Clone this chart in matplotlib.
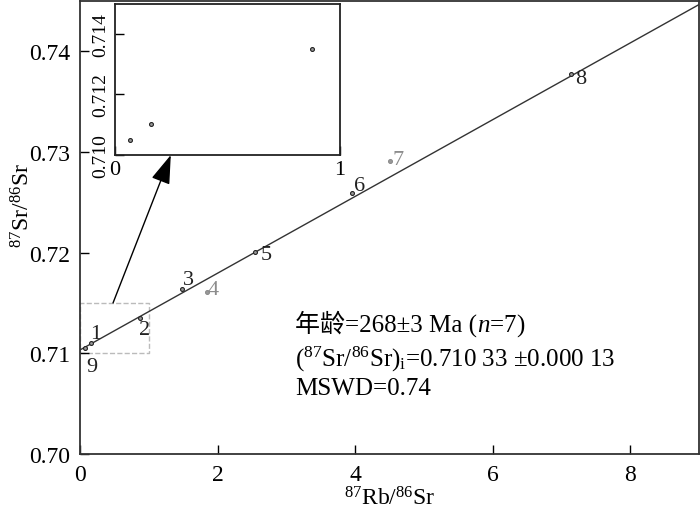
import matplotlib
matplotlib.use("Agg")
import matplotlib.pyplot as plt

plt.rcParams['font.family'] = ['Liberation Serif', 'Noto Sans CJK SC']
plt.rcParams['mathtext.fontset'] = 'custom'
plt.rcParams['mathtext.rm'] = 'Liberation Serif'
plt.rcParams['mathtext.it'] = 'Liberation Serif:italic'

# sample data (87Rb/86Sr, 87Sr/86Sr)
labels = ["9", "1", "2", "3", "4", "5", "6", "7", "8"]
rb_sr = [0.068, 0.16, 0.874, 1.48, 1.84, 2.54, 3.96, 4.51, 7.14]
sr_sr = [0.71048, 0.71101, 0.71351, 0.71639, 0.71606, 0.72009, 0.72589, 0.72913, 0.73774]
grey = [False, False, False, False, True, False, False, True, False]
# label offsets in points
offsets = [(5, -13), (3, 7), (3, -8), (5, 7), (5, 2), (8, -2), (5, 6), (6, 1), (7, -3)]

fit_x = [0, 9]
fit_y = [0.71033, 0.74465]

fig = plt.figure(figsize=(7, 5.1), dpi=100)
ax = fig.add_axes([0.1143, 0.108, 0.8843, 0.888])

ax.plot(fit_x, fit_y, color='#333333', lw=1.0, zorder=2)

for lab, x, y, g, off in zip(labels, rb_sr, sr_sr, grey, offsets):
    c = '#8c8c8c' if g else '#222222'
    ax.plot(x, y, 'o', ms=2.8, mfc='#999999', mec=c, mew=0.8, zorder=3)
    ax.annotate(lab, (x, y), xytext=off, textcoords='offset points',
                fontsize=16, color=c, ha='center', va='center')

# zoom box
ax.plot([0, 1, 1, 0, 0], [0.710, 0.710, 0.715, 0.715, 0.710],
        ls='--', color='#bbbbbb', lw=1.0, zorder=1, clip_on=False)

ax.annotate('', xy=(1.32, 0.7297), xytext=(0.48, 0.715),
            arrowprops=dict(arrowstyle='-|>,head_length=0.9,head_width=0.3',
                            mutation_scale=20, color='black', lw=1,
                            shrinkA=0, shrinkB=0))

ax.set_xlim(0, 9)
ax.set_ylim(0.70, 0.745)
ax.set_xticks([0, 2, 4, 6, 8])
ax.set_yticks([0.70, 0.71, 0.72, 0.73, 0.74])
ax.set_yticklabels(['0.70', '0.71', '0.72', '0.73', '0.74'])
ax.tick_params(direction='in', length=6.5, width=1, labelsize=17, pad=7)
for s in ax.spines.values():
    s.set_linewidth(1.3)
    s.set_color('#333333')
ax.set_xlabel('$^{87}$Rb/$^{86}$Sr', fontsize=17, labelpad=1)
ax.set_ylabel('$^{87}$Sr/$^{86}$Sr', fontsize=17)
ax.yaxis.set_label_coords(-0.073, 0.55)

# annotation text
t1 = ax.text(0.347, 0.272, '年龄=268±3 Ma (', transform=ax.transAxes,
             fontsize=18, va='baseline')
ax.text(0.347, 0.195, r'($^{87}$Sr/$^{86}$Sr)$_{\rm i}$=0.710 33 ±0.000 13',
        transform=ax.transAxes, fontsize=18, va='baseline')
ax.text(0.347, 0.132, 'MSWD=0.74', transform=ax.transAxes,
        fontsize=18, va='baseline')
fig.canvas.draw()
bb = t1.get_window_extent().transformed(ax.transAxes.inverted())
ax.text(bb.x1, 0.272, r'$\it{n}$=7)', transform=ax.transAxes,
        fontsize=18, va='baseline')

# inset
ins = fig.add_axes([0.1639, 0.6947, 0.3219, 0.2955])
for x, y in zip(rb_sr[:3], sr_sr[:3]):
    ins.plot(x, y, 'o', ms=2.8, mfc='#999999', mec='#222222', mew=0.8)
ins.set_xlim(0, 1)
ins.set_ylim(0.710, 0.715)
ins.set_xticks([0, 1])
ins.set_yticks([0.710, 0.712, 0.714])
ins.set_yticklabels(['0.710', '0.712', '0.714'], rotation=90, va='center')
ins.tick_params(direction='in', length=6.5, width=1, pad=4)
ins.tick_params(axis='y', labelsize=14)
ins.tick_params(axis='x', labelsize=16)
for s in ins.spines.values():
    s.set_linewidth(1.3)
    s.set_color('#222222')

fig.savefig('out.png', dpi=100)
